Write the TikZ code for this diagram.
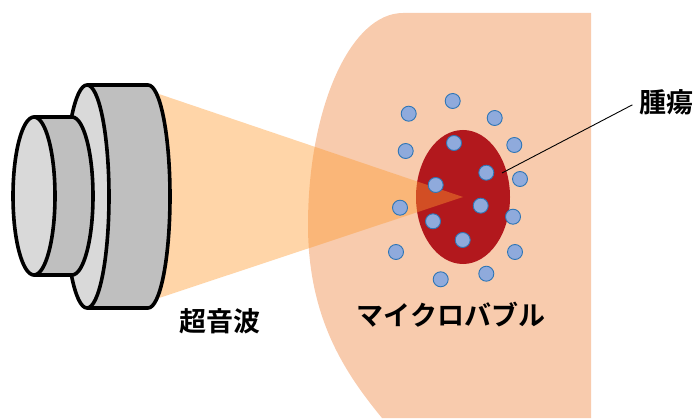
\documentclass[tikz,border=0pt]{standalone}
\usepackage{fontspec}
\newfontfamily\jpfont{Noto Sans CJK JP Bold}
\usepackage{tikz}
\usetikzlibrary{calc,positioning,shapes.geometric}

\definecolor{skin}{HTML}{F8CBAD}
\definecolor{beamcol}{HTML}{FF9A30}
\definecolor{tumorred}{HTML}{B2181D}
\definecolor{bubblefill}{HTML}{8FAADC}
\definecolor{bubbleline}{HTML}{2E75B6}
\definecolor{probelight}{HTML}{D9D9D9}
\definecolor{probedark}{HTML}{BFBFBF}

\tikzset{
  probeline/.style={line width=3.6pt,line join=round},
  bubble/.style={circle,fill=bubblefill,draw=bubbleline,line width=0.9pt,minimum size=15pt,inner sep=0pt},
  jplabel/.style={font=\jpfont\fontsize{27}{30}\selectfont,inner sep=2pt},
}

\begin{document}
\begin{tikzpicture}[x=1pt,y=1pt]
\useasboundingbox (0,0) rectangle (698,418);
% body
\fill[skin] (591,0) -- (591,405) -- (403,405)
  arc[start angle=90,end angle=180,x radius=95,y radius=212]
  .. controls (308,100) and (345,45) .. (382,0) -- cycle;
% tumour
\node[ellipse,fill=tumorred,minimum width=94pt,minimum height=134pt,inner sep=0pt] (tumor) at (463,221) {};
% ultrasound beam
\fill[beamcol,opacity=0.42] (153,326) -- (tumor.center) -- (153,118) -- cycle;
% microbubbles
\foreach \bx/\by [count=\i] in {408.7/304.3, 452.7/317, 494.7/300, 405.7/267, 454/275, 514.3/273,
    486.3/245.3, 520/239, 435.7/233, 400/210.3, 480.7/212.3, 513/201.3, 433/196.7,
    462.7/178, 396/166, 515/166, 440.7/138.7, 486.3/144.3}
  \node[bubble] (mb\i) at (\bx,\by) {};
% probe: large cylinder
\filldraw[probeline,fill=probedark] (87,333) -- (148,333) arc[start angle=90,end angle=-90,x radius=22,y radius=111.5] -- (87,110) -- cycle;
\filldraw[probeline,fill=probelight] (87,221.5) ellipse[x radius=22,y radius=111.5];
% probe: small cylinder
\filldraw[probeline,fill=probedark] (34,301) -- (72,301) arc[start angle=90,end angle=-90,x radius=21,y radius=79] -- (34,143) -- cycle;
\filldraw[probeline,fill=probelight] (34,222) ellipse[x radius=21,y radius=79];
% labels
\node[jplabel] (waves) at (219.5,97) {超音波};
\node[jplabel] (bubbles) at (451,103) {マイクロバブル};
\node[jplabel] (tumorlabel) at (666,315.5) {腫瘍};
\coordinate (tumorpt) at (502,245);
\draw[line width=0.9pt,shorten <=5pt] (tumorlabel.west) -- (tumorpt);
\end{tikzpicture}
\end{document}
